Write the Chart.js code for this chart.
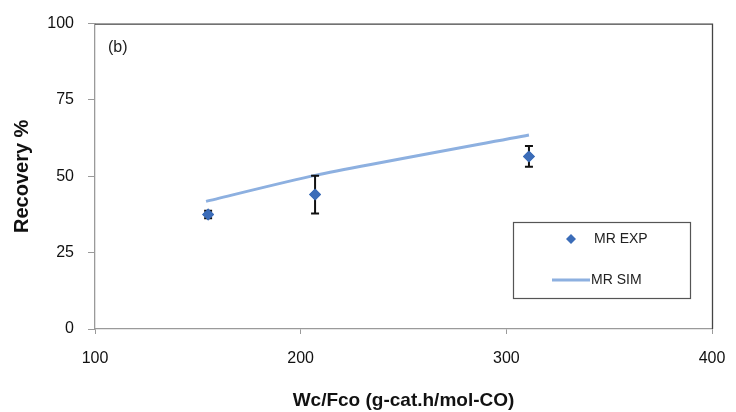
<!DOCTYPE html>
<html>
<head>
<meta charset="utf-8">
<script src="https://cdn.jsdelivr.net/npm/chart.js@4"></script>
<style>
  html, body { margin: 0; padding: 0; background: #fff; }
  #wrap { width: 736px; height: 412px; }
</style>
</head>
<body>
<div id="wrap"><canvas id="recoveryChart" width="736" height="412"></canvas></div>
<script>
// experimental points (MR EXP) with error bars
var expX = [155, 207, 311];
var expY = [37.5, 44, 56.5];
var expErr = [1.2, 6.2, 3.4];

// simulation line (MR SIM)
var simX = [154, 207, 311];
var simY = [41.8, 50.3, 63.5];

// axis ticks
var xTicks = [100, 200, 300, 400];
var yTicks = [0, 25, 50, 75, 100];

var expColor = '#3b6cb8';
var simColor = '#8db0e0';
var axisGray = '#9a9a9a';

var expPoints = expX.map(function (x, i) { return { x: x, y: expY[i] }; });
var simPoints = simX.map(function (x, i) { return { x: x, y: simY[i] }; });

// error bars, frame and legend box
var extras = {
	id: 'extras',
	afterDatasetsDraw: function (chart) {
		var ctx = chart.ctx;
		var xs = chart.scales.x, ys = chart.scales.y;
		var area = chart.chartArea;
		ctx.save();
		ctx.strokeStyle = '#111';
		ctx.lineWidth = 2;
		expX.forEach(function (x, i) {
			var px = xs.getPixelForValue(x);
			var top = ys.getPixelForValue(expY[i] + expErr[i]);
			var bot = ys.getPixelForValue(expY[i] - expErr[i]);
			ctx.beginPath();
			ctx.moveTo(px, top); ctx.lineTo(px, bot);
			ctx.moveTo(px - 4, top); ctx.lineTo(px + 4, top);
			ctx.moveTo(px - 4, bot); ctx.lineTo(px + 4, bot);
			ctx.stroke();
		});
		// redraw markers above the bars
		var meta = chart.getDatasetMeta(0);
		meta.data.forEach(function (el) { el.draw(ctx); });

		// top and right frame lines
		ctx.strokeStyle = '#444';
		ctx.lineWidth = 1.3;
		ctx.beginPath();
		ctx.moveTo(area.left, area.top + 0.5);
		ctx.lineTo(area.right + 0.5, area.top + 0.5);
		ctx.lineTo(area.right + 0.5, area.bottom);
		ctx.stroke();

		// panel label
		ctx.fillStyle = '#222';
		ctx.font = '16px "Liberation Sans", Arial, sans-serif';
		ctx.textBaseline = 'middle';
		ctx.textAlign = 'left';
		ctx.fillText('(b)', area.left + 13, area.top + 24);

		// legend box
		var lx = 513, ly = 222, lw = 177, lh = 76;
		ctx.fillStyle = '#fff';
		ctx.fillRect(lx, ly, lw, lh);
		ctx.strokeStyle = '#555';
		ctx.lineWidth = 1.2;
		ctx.strokeRect(lx + 0.5, ly + 0.5, lw, lh);

		ctx.fillStyle = expColor;
		ctx.beginPath();
		ctx.moveTo(571, 234); ctx.lineTo(576, 239); ctx.lineTo(571, 244); ctx.lineTo(566, 239);
		ctx.closePath();
		ctx.fill();

		ctx.strokeStyle = simColor;
		ctx.lineWidth = 3;
		ctx.beginPath();
		ctx.moveTo(552, 280); ctx.lineTo(590, 280);
		ctx.stroke();

		ctx.fillStyle = '#222';
		ctx.font = '14px "Liberation Sans", Arial, sans-serif';
		ctx.fillText('MR EXP', 594, 239);
		ctx.fillText('MR SIM', 591, 280);
		ctx.restore();
	}
};

var ctx = document.getElementById('recoveryChart').getContext('2d');
var recoveryChart = new Chart(ctx, {
	type: 'scatter',
	data: {
		datasets: [
			{
				label: 'MR EXP',
				data: expPoints,
				pointStyle: 'rectRot',
				pointRadius: 6,
				backgroundColor: expColor,
				borderColor: expColor,
				borderWidth: 0,
				showLine: false
			},
			{
				label: 'MR SIM',
				data: simPoints,
				showLine: true,
				borderColor: simColor,
				borderWidth: 3,
				pointRadius: 0,
				tension: 0.2,
				fill: false
			}
		]
	},
	options: {
		responsive: false,
		animation: false,
		layout: { padding: { top: 20, right: 24, left: 0, bottom: 0 } },
		plugins: {
			legend: { display: false },
			tooltip: { enabled: false }
		},
		scales: {
			x: {
				type: 'linear',
				min: 100,
				max: 400,
				afterBuildTicks: function (axis) {
					axis.ticks = xTicks.map(function (v) { return { value: v }; });
				},
				afterFit: function (axis) {
					axis.height = 83;
					axis.paddingLeft = 0;
					axis.paddingRight = 0;
				},
				grid: {
					drawOnChartArea: false,
					drawTicks: true,
					tickLength: 5,
					color: axisGray
				},
				border: { color: axisGray, width: 1.3 },
				ticks: {
					color: '#111',
					padding: 15,
					maxRotation: 0,
					font: { family: '"Liberation Sans", Arial, sans-serif', size: 16 }
				},
				title: {
					display: true,
					text: 'Wc/Fco (g-cat.h/mol-CO)',
					color: '#111',
					padding: { top: 0, bottom: 0 },
					font: { family: '"Liberation Sans", Arial, sans-serif', size: 19, weight: 'bold' }
				}
			},
			y: {
				min: 0,
				max: 100,
				afterBuildTicks: function (axis) {
					axis.ticks = yTicks.map(function (v) { return { value: v }; });
				},
				afterFit: function (axis) { axis.width = 95; },
				grid: {
					drawOnChartArea: false,
					drawTicks: true,
					tickLength: 7,
					color: axisGray
				},
				border: { color: axisGray, width: 1.3 },
				ticks: {
					color: '#111',
					padding: 14,
					font: { family: '"Liberation Sans", Arial, sans-serif', size: 16 }
				},
				title: {
					display: true,
					text: 'Recovery %',
					color: '#111',
					padding: { top: 10, bottom: 0 },
					font: { family: '"Liberation Sans", Arial, sans-serif', size: 20, weight: 'bold' }
				}
			}
		}
	},
	plugins: [extras]
});
</script>
</body>
</html>
